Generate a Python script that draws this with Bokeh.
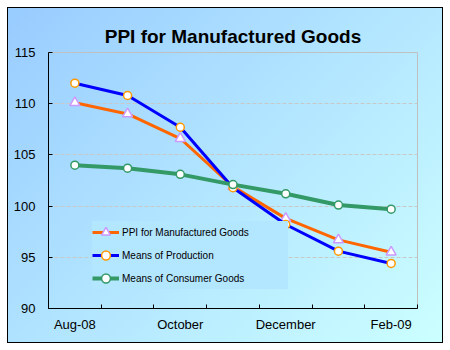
from bokeh.plotting import figure
from bokeh.models import FixedTicker, Legend, LegendItem, Range1d
from bokeh.embed import file_html
from bokeh.resources import INLINE

# ---- data ----
months = ["Aug-08", "Sep-08", "October", "Nov-08", "December", "Jan-09", "Feb-09"]
ppi = [110.1, 109.0, 106.6, 101.9, 98.8, 96.7, 95.5]
production = [112.0, 110.8, 107.7, 101.8, 98.2, 95.6, 94.4]
consumer = [104.0, 103.7, 103.1, 102.1, 101.2, 100.1, 99.7]
y_ticks = [90, 95, 100, 105, 110, 115]
series_names = ["PPI for Manufactured Goods", "Means of Production", "Means of Consumer Goods"]

x = list(range(len(months)))
FONT = "Liberation Sans"

p = figure(width=450, height=350, output_backend="svg", toolbar_location=None,
           x_range=Range1d(-0.5, len(months) - 0.5), y_range=Range1d(y_ticks[0], y_ticks[-1]),
           min_border_left=48, min_border_right=33, min_border_top=52, min_border_bottom=42)

p.styles = {
    "background": "linear-gradient(135deg, #99ccff, #ccffff) 8px 8px / 434px 334px no-repeat, "
                  "linear-gradient(#000, #000) 7px 7px / 436px 336px no-repeat, #ffffff"
}
p.border_fill_alpha = 0
p.background_fill_alpha = 0
p.outline_line_color = "#c0c0c0"

p.title.text = "PPI for Manufactured Goods"
p.title.text_font = FONT
p.title.text_font_size = "19px"
p.title.text_font_style = "bold"
p.title.text_color = "black"
p.title.align = "center"
p.title.offset = -7
p.title.standoff = 12

# axes
p.xaxis.ticker = FixedTicker(ticks=x[::2], minor_ticks=[i - 0.5 for i in range(len(months) + 1)])
p.xaxis.major_label_overrides = {i: months[i] for i in x[::2]}
p.xaxis.major_tick_in = 0
p.xaxis.major_tick_out = 0
p.xaxis.minor_tick_in = 4
p.xaxis.minor_tick_out = 0
p.xaxis.minor_tick_line_color = "black"
p.xaxis.major_label_standoff = 8

p.yaxis.ticker = FixedTicker(ticks=y_ticks)
p.yaxis.major_tick_in = 4
p.yaxis.major_tick_out = 0
p.yaxis.minor_tick_line_color = None
p.yaxis.major_label_standoff = 13

for ax in (p.xaxis[0], p.yaxis[0]):
    ax.axis_line_color = "black"
    ax.major_tick_line_color = "black"
    ax.major_label_text_font = FONT
    ax.major_label_text_font_size = "13px"
    ax.major_label_text_color = "black"

p.xgrid.visible = False
p.ygrid.grid_line_color = "#c8c8c8"
p.ygrid.grid_line_dash = "4 2"

# series
l1 = p.line(x, ppi, line_color="#ff6600", line_width=3)
m1 = p.scatter(x, ppi, marker="triangle", size=10, fill_color="white",
               line_color="#cc99ff", line_width=1.5)
l2 = p.line(x, production, line_color="#0000ff", line_width=3)
m2 = p.scatter(x, production, marker="circle", size=8, fill_color="white",
               line_color="#ff9900", line_width=1.5)
l3 = p.line(x, consumer, line_color="#339966", line_width=4)
m3 = p.scatter(x, consumer, marker="circle", size=8, fill_color="white",
               line_color="#339966", line_width=1.5)

legend = Legend(items=[
    LegendItem(label=series_names[0], renderers=[l1, m1]),
    LegendItem(label=series_names[1], renderers=[l2, m2]),
    LegendItem(label=series_names[2], renderers=[l3, m3]),
], location=(44, 19))
legend.padding = 0
legend.margin = 0
legend.spacing = 1
legend.glyph_width = 27
legend.glyph_height = 22
legend.label_height = 22
legend.label_width = 166
legend.label_standoff = 3
legend.label_text_font = FONT
legend.label_text_font_size = "10px"
legend.label_text_color = "black"
legend.border_line_color = None
legend.background_fill_color = "#b3e6ff"
legend.background_fill_alpha = 1
p.add_layout(legend, "center")

open("out.html", "w").write(file_html(p, INLINE))
